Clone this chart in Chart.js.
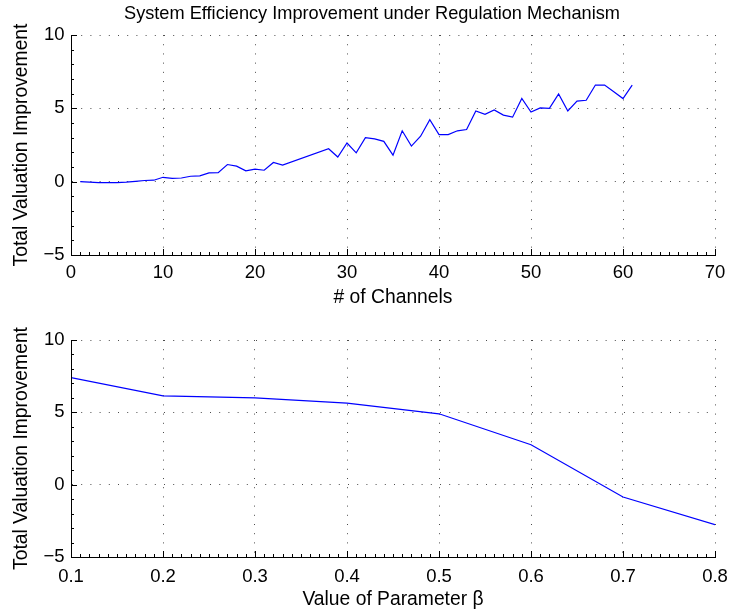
<!DOCTYPE html>
<html>
<head>
<meta charset="utf-8">
<script src="https://cdn.jsdelivr.net/npm/chart.js@4/dist/chart.umd.min.js"></script>
<style>
  html, body { margin: 0; padding: 0; background: #fff; }
  #wrap { position: relative; width: 731px; height: 615px; overflow: hidden; }
  canvas { position: absolute; left: 0; }
  #c1 { top: 0; }
  #c2 { top: 310px; }
</style>
</head>
<body>
<div id="wrap">
  <canvas id="c1" width="731" height="310"></canvas>
  <canvas id="c2" width="731" height="305"></canvas>
</div>
<script>
// ---- data ----
const channels = [1,2,3,4,5,6,7,8,9,10,11,12,13,14,15,16,17,18,19,20,21,22,23,
  28,29,30,31,32,33,34,35,36,37,38,39,40,41,42,43,44,45,46,47,48,49,50,51,52,53,54,55,56,57,58,59,60,61];
const channelImprovement = [0,-0.03,-0.07,-0.07,-0.06,-0.03,0.02,0.08,0.1,0.3,0.23,0.25,0.37,0.4,0.6,0.62,1.17,1.06,0.74,0.85,0.78,1.31,1.13,
  2.25,1.68,2.64,1.97,3.0,2.92,2.75,1.81,3.47,2.43,3.1,4.22,3.21,3.21,3.47,3.56,4.82,4.59,4.89,4.54,4.4,5.67,4.75,5.03,5.0,5.99,4.82,5.49,5.55,6.59,6.59,6.13,5.67,6.59];
const betaValues = [0.1,0.2,0.3,0.4,0.5,0.6,0.7,0.8];
const betaImprovement = [7.4,6.14,6.0,5.63,4.9,2.76,-0.85,-2.76];
const xTicksTop = [0,10,20,30,40,50,60,70];
const xTicksBottom = [0.1,0.2,0.3,0.4,0.5,0.6,0.7,0.8];
const yTicks = [-5,0,5,10];
const titleText = 'System Efficiency Improvement under Regulation Mechanism';
const yLabel = 'Total Valuation Improvement';
const xLabelTop = '# of Channels';
const xLabelBottom = 'Value of Parameter \u03B2';

// ---- styling ----
const FONT = '"Liberation Sans", Arial, Helvetica, sans-serif';
Chart.defaults.font.family = FONT;
Chart.defaults.color = '#000';

function fmtNum(v, dec) {
  const s = Math.abs(v).toFixed(dec);
  return v < 0 ? '\u2212' + s : s;
}

const minorTicks = {
  id: 'minorTicks',
  afterDraw(chart, args, opts) {
    const ctx = chart.ctx;
    const xs = chart.scales.x, ys = chart.scales.y;
    const {left, bottom} = chart.chartArea;
    ctx.save();
    ctx.strokeStyle = '#000';
    ctx.lineWidth = 1;
    ctx.beginPath();
    const nx = Math.round((xs.max - xs.min) / opts.xMinor);
    for (let i = 0; i <= nx; i++) {
      const v = xs.min + i * opts.xMinor;
      const major = xs.ticks.some(t => Math.abs(t.value - v) < opts.xMinor / 10);
      const px = Math.round(xs.getPixelForValue(v)) + 0.5;
      ctx.moveTo(px, bottom);
      ctx.lineTo(px, bottom - (major ? 6 : 3));
    }
    const ny = Math.round((ys.max - ys.min) / opts.yMinor);
    for (let i = 0; i <= ny; i++) {
      const v = ys.min + i * opts.yMinor;
      const major = ys.ticks.some(t => Math.abs(t.value - v) < opts.yMinor / 10);
      const py = Math.round(ys.getPixelForValue(v)) + 0.5;
      ctx.moveTo(left, py);
      ctx.lineTo(left + (major ? 6 : 3), py);
    }
    ctx.stroke();
    ctx.restore();
  }
};

const axisLines = {
  id: 'axisLines',
  afterDraw(chart) {
    const ctx = chart.ctx;
    const {left, right, top, bottom} = chart.chartArea;
    ctx.save();
    ctx.strokeStyle = '#000';
    ctx.lineWidth = 1;
    ctx.setLineDash([]);
    ctx.beginPath();
    ctx.moveTo(Math.round(left) + 0.5, top);
    ctx.lineTo(Math.round(left) + 0.5, Math.round(bottom) + 1);
    ctx.moveTo(left, Math.round(bottom) + 0.5);
    ctx.lineTo(right + 0.5, Math.round(bottom) + 0.5);
    ctx.stroke();
    ctx.restore();
  }
};

// shift the title block so it is centred like the reference
const titleShift = {
  id: 'titleShift',
  afterLayout(chart) {
    if (chart.titleBlock) { chart.titleBlock.left = 29; chart.titleBlock.right = 715; }
  }
};

function makeOptions(cfg) {
  return {
    responsive: false,
    animation: false,
    devicePixelRatio: 1,
    layout: { padding: { left: 0, right: 16, top: cfg.padTop, bottom: 0 } },
    plugins: {
      legend: { display: false },
      tooltip: { enabled: false },
      title: cfg.title ? {
        display: true,
        text: cfg.title,
        color: '#000',
        font: { size: 18.2, weight: 'normal', lineHeight: 1.2 },
        padding: { top: 3.1, bottom: 10.1 }
      } : { display: false },
      minorTicks: { xMinor: cfg.xMinor, yMinor: 1 }
    },
    scales: {
      x: {
        type: 'linear',
        min: cfg.xMin, max: cfg.xMax,
        afterBuildTicks: s => { s.ticks = cfg.xTicks.map(v => ({ value: v })); },
        afterFit: s => { s.height = cfg.xAxisH; },
        grid: { display: true, drawTicks: false, color: 'rgba(0,0,0,0.7)', lineWidth: 1 },
        border: { display: true, color: '#000', width: 1, dash: [1, 8.2] },
        ticks: {
          padding: 0, maxRotation: 0, autoSkip: false,
          font: { size: 18.5, lineHeight: cfg.xTickLH },
          callback: v => fmtNum(v, cfg.xDec)
        },
        title: {
          display: true, text: cfg.xLabel,
          font: { size: 19.3, lineHeight: 1 },
          padding: { top: 0, bottom: cfg.xTitlePad }
        }
      },
      y: {
        type: 'linear',
        min: -5, max: 10,
        afterBuildTicks: s => { s.ticks = yTicks.map(v => ({ value: v })); },
        afterFit: s => { s.width = 71; },
        grid: { display: true, drawTicks: false, color: 'rgba(0,0,0,0.7)', lineWidth: 1 },
        border: { display: true, color: '#000', width: 1, dash: [1, 8.2] },
        ticks: {
          padding: 6.5,
          font: { size: 18.5, lineHeight: 1 },
          callback: v => fmtNum(v, 0)
        },
        title: {
          display: true, text: yLabel,
          font: { size: 19.3, lineHeight: 1 },
          padding: { top: 12, bottom: 0 }
        }
      }
    }
  };
}

new Chart(document.getElementById('c1'), {
  type: 'line',
  data: {
    datasets: [{
      data: channels.map((c, i) => ({ x: c, y: channelImprovement[i] })),
      borderColor: '#0000ff', borderWidth: 1.2, pointRadius: 0, tension: 0, fill: false
    }]
  },
  options: makeOptions({
    title: titleText, padTop: 0, xMin: 0, xMax: 70, xTicks: xTicksTop, xDec: 0,
    xMinor: 1, xAxisH: 55, xLabel: xLabelTop, xTitlePad: 2.85, xTickLH: 1.95
  }),
  plugins: [minorTicks, axisLines, titleShift]
});

new Chart(document.getElementById('c2'), {
  type: 'line',
  data: {
    datasets: [{
      data: betaValues.map((b, i) => ({ x: b, y: betaImprovement[i] })),
      borderColor: '#0000ff', borderWidth: 1.2, pointRadius: 0, tension: 0, fill: false
    }]
  },
  options: makeOptions({
    title: null, padTop: 30, xMin: 0.1, xMax: 0.8, xTicks: xTicksBottom, xDec: 1,
    xMinor: 0.01, xAxisH: 58, xLabel: xLabelBottom, xTitlePad: 5.35, xTickLH: 2.16
  }),
  plugins: [minorTicks, axisLines]
});
</script>
</body>
</html>
